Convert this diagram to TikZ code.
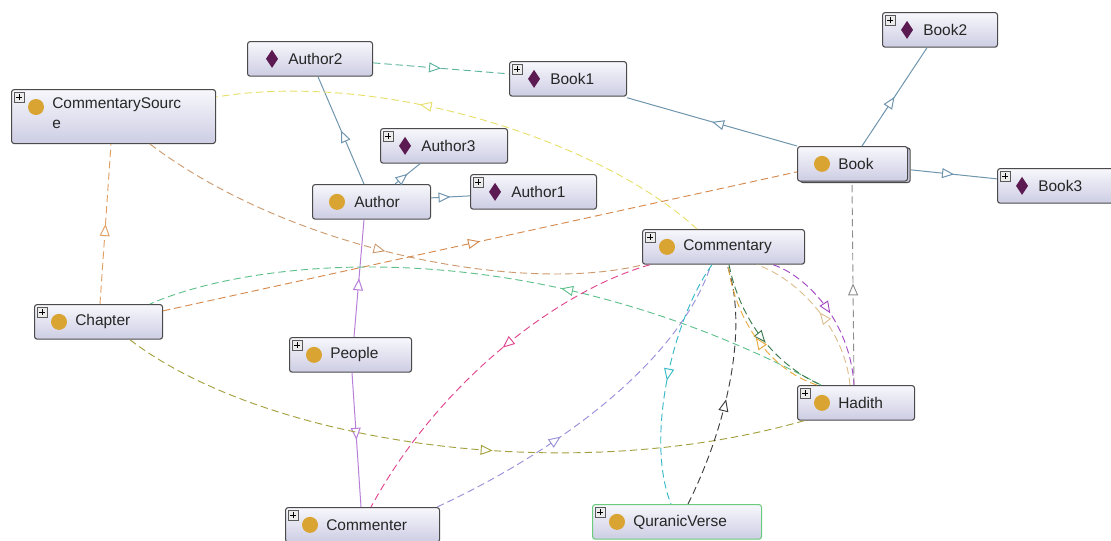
\documentclass[tikz,border=0pt]{standalone}
\usepackage{fontspec}
\setmainfont{Liberation Sans}
\usepackage{tikz}
\usetikzlibrary{positioning, calc, arrows.meta, decorations.markings, shadows}

% colours of the boxes and icons
\definecolor{boxtop}{HTML}{F7F7FC}
\definecolor{boxbot}{HTML}{CDCDE4}
\definecolor{boxline}{HTML}{4A4A4A}
\definecolor{dotgold}{HTML}{D9A431}
\definecolor{diamplum}{HTML}{5B1B52}
% colours of the connectors
\definecolor{cSteel}{HTML}{6F95AE}
\definecolor{cTeal}{HTML}{5DB5A0}
\definecolor{cViolet}{HTML}{B77FD8}
\definecolor{cOrange}{HTML}{E0A062}
\definecolor{cTan}{HTML}{CC9A6E}
\definecolor{cRust}{HTML}{D58A4E}
\definecolor{cGreen}{HTML}{5FC08C}
\definecolor{cYellow}{HTML}{E6DF6A}
\definecolor{cGrey}{HTML}{8E8E8E}
\definecolor{cOlive}{HTML}{A3A03E}
\definecolor{cPink}{HTML}{E0448E}
\definecolor{cLav}{HTML}{9890D8}
\definecolor{cCyan}{HTML}{35B9C6}
\definecolor{cBlack}{HTML}{3E3E3E}
\definecolor{cDkGreen}{HTML}{3B7A4E}
\definecolor{cAmber}{HTML}{E8A93E}
\definecolor{cSand}{HTML}{DDBE8E}
\definecolor{cPurple}{HTML}{A247C2}
\definecolor{cQuran}{HTML}{6BCB7C}

\newcommand\lblfont{\fontsize{11.6}{15.5}\selectfont}

\tikzset{
  pics/plusicon/.style={code={
    \draw[gray!70!black, fill=gray!15, line width=0.4pt] (-5,-5) rectangle (5,5);
    \draw[black, line width=0.6pt] (-3,0) -- (3,0) (0,-3) -- (0,3);
  }},
  pics/clsdot/.style={code={\fill[dotgold] (0,0) circle [radius=6pt];}},
  pics/inddiam/.style={code={\fill[diamplum] (0,-9) -- (6,0) -- (0,9) -- (-6,0) -- cycle;}},
}

\begin{document}
\begin{tikzpicture}[x=0.75pt, y=-0.75pt,
    ent/.style={draw=boxline, line width=0.8pt, rounded corners=2pt,
      top color=boxtop, bottom color=boxbot, anchor=north west,
      inner sep=0pt, minimum height=26pt},
    lbl/.style={anchor=west, inner sep=0pt, font=\lblfont, text=black!85},
    sol/.style={line width=0.75pt},
    dsh/.style={line width=0.7pt, dash pattern=on 5.5pt off 3pt},
    tri/.style={postaction={decorate}, decoration={markings,
      mark=at position #1 with {\arrow[solid]{Triangle[length=9pt, width=7.5pt, fill=white]}}}},
    tri/.default=0.5]
    \useasboundingbox (0,0) rectangle (1111,540);

    % Individuals
    \node[ent, minimum width=125*0.75pt] (author2) at (247,41) {};
    \pic at ($(author2.west)+(25,0)$) {inddiam};
    \node[lbl] (author2-t) at ($(author2.west)+(41,0)$) {Author2};

    \node[ent, minimum width=117*0.75pt] (book1) at (509,61) {};
    \pic at ($(book1.north west)+(8,8)$) {plusicon};
    \pic at ($(book1.west)+(25,0)$) {inddiam};
    \node[lbl] (book1-t) at ($(book1.west)+(41,0)$) {Book1};

    \node[ent, minimum width=127*0.75pt] (author3) at (380,128) {};
    \pic at ($(author3.north west)+(8,8)$) {plusicon};
    \pic at ($(author3.west)+(25,0)$) {inddiam};
    \node[lbl] (author3-t) at ($(author3.west)+(41,0)$) {Author3};

    \node[ent, minimum width=126*0.75pt] (author1) at (470,174) {};
    \pic at ($(author1.north west)+(8,8)$) {plusicon};
    \pic at ($(author1.west)+(25,0)$) {inddiam};
    \node[lbl] (author1-t) at ($(author1.west)+(41,0)$) {Author1};

    \node[ent, minimum width=115*0.75pt] (book2) at (882,12) {};
    \pic at ($(book2.north west)+(8,8)$) {plusicon};
    \pic at ($(book2.west)+(25,0)$) {inddiam};
    \node[lbl] (book2-t) at ($(book2.west)+(41,0)$) {Book2};

    \node[ent, minimum width=125*0.75pt] (book3) at (997,168) {};
    \pic at ($(book3.north west)+(8,8)$) {plusicon};
    \pic at ($(book3.west)+(25,0)$) {inddiam};
    \node[lbl] (book3-t) at ($(book3.west)+(41,0)$) {Book3};

    % Classes
    \node[ent, minimum width=204*0.75pt, minimum height=54*0.75pt] (commsrc) at (11,89) {};
    \pic at ($(commsrc.north west)+(8,8)$) {plusicon};
    \pic at ($(commsrc.north west)+(25,18)$) {clsdot};
    \node[lbl, anchor=north west, align=left] (commsrc-t) at ($(commsrc.north west)+(41,8)$) {CommentarySourc\\e};

    \node[ent, minimum width=118*0.75pt] (author) at (312,184) {};
    \pic at ($(author.west)+(25,0)$) {clsdot};
    \node[lbl] (author-t) at ($(author.west)+(42,0)$) {Author};

    \node[ent, minimum width=110*0.75pt,
      copy shadow={shadow xshift=2pt, shadow yshift=-1pt, fill=boxbot, draw=boxline, line width=0.8pt}] (book) at (797,146) {};
    \pic at ($(book.west)+(25,0)$) {clsdot};
    \node[lbl] (book-t) at ($(book.west)+(41,0)$) {Book};

    \node[ent, minimum width=162*0.75pt] (commentary) at (642,229) {};
    \pic at ($(commentary.north west)+(8,8)$) {plusicon};
    \pic at ($(commentary.west)+(25,0)$) {clsdot};
    \node[lbl] (commentary-t) at ($(commentary.west)+(41,0)$) {Commentary};

    \node[ent, minimum width=128*0.75pt] (chapter) at (34,304) {};
    \pic at ($(chapter.north west)+(8,8)$) {plusicon};
    \pic at ($(chapter.west)+(25,0)$) {clsdot};
    \node[lbl] (chapter-t) at ($(chapter.west)+(41,0)$) {Chapter};

    \node[ent, minimum width=122*0.75pt] (people) at (289,337) {};
    \pic at ($(people.north west)+(8,8)$) {plusicon};
    \pic at ($(people.west)+(25,0)$) {clsdot};
    \node[lbl] (people-t) at ($(people.west)+(41,0)$) {People};

    \node[ent, minimum width=154*0.75pt] (commenter) at (285,507) {};
    \pic at ($(commenter.north west)+(8,8)$) {plusicon};
    \pic at ($(commenter.west)+(25,0)$) {clsdot};
    \node[lbl] (commenter-t) at ($(commenter.west)+(41,0)$) {Commenter};

    \node[ent, minimum width=117*0.75pt] (hadith) at (797,385) {};
    \pic at ($(hadith.north west)+(8,8)$) {plusicon};
    \pic at ($(hadith.west)+(25,0)$) {clsdot};
    \node[lbl] (hadith-t) at ($(hadith.west)+(41,0)$) {Hadith};

    \node[ent, draw=cQuran, minimum width=169*0.75pt] (quranic) at (592,504) {};
    \pic at ($(quranic.north west)+(8,8)$) {plusicon};
    \pic at ($(quranic.west)+(25,0)$) {clsdot};
    \node[lbl] (quranic-t) at ($(quranic.west)+(41,0)$) {QuranicVerse};

    % Solid links (individuals and subclasses)
    \draw[sol, cSteel, tri] (book.north west) -- ($(book1.south east)+(0,1)$);
    \draw[sol, cSteel, tri] ($(book.north west)+(65,0)$) -- ($(book2.south west)+(45,0)$);
    \draw[sol, cSteel, tri] ($(book.east)+(3,6)$) -- ($(book3.west)+(0,-7)$);
    \draw[sol, cSteel, tri] ($(author.north west)+(52,0)$) -- ($(author2.south west)+(71,0)$);
    \draw[sol, cSteel, tri] ($(author.north west)+(83,0)$) -- ($(author3.south west)+(40,0)$);
    \draw[sol, cSteel, tri] ($(author.east)+(0,-4)$) -- ($(author1.west)+(0,4)$);
    \draw[sol, cViolet, tri] ($(people.north west)+(65,0)$) -- ($(author.south west)+(52,0)$);
    \draw[sol, cViolet, tri] ($(people.south west)+(63,0)$) -- ($(commenter.north west)+(76,0)$);

    % Dashed links (object properties)
    \draw[dsh, cTeal, tri] ($(author2.east)+(0,4)$) -- ($(book1.west)+(0,-5)$);
    \draw[dsh, cOrange, tri] ($(chapter.north west)+(66,0)$) -- ($(commsrc.south west)+(100,0)$);
    \draw[dsh, cTan, tri] ($(commsrc.south west)+(139,0)$) .. controls (290,250) and (520,295) .. ($(commentary.south west)+(1,0)$);
    \draw[dsh, cRust, tri] ($(chapter.east)+(0,-11)$) -- ($(book.west)+(0,8)$);
    \draw[dsh, cGreen, tri=0.4] ($(hadith.north west)+(24,0)$) .. controls (520,225) and (250,260) .. ($(chapter.north west)+(116,0)$);
    \draw[dsh, cYellow, tri=0.6] ($(commentary.north west)+(55,0)$) .. controls (600,140) and (380,70) .. ($(commsrc.north east)+(0,8)$);
    \draw[dsh, cGrey, tri] ($(hadith.north west)+(57,0)$) -- ($(book.south west)+(55,0)$);
    \draw[dsh, cOlive, tri=0.55] ($(chapter.south west)+(96,0)$) .. controls (260,440) and (560,490) .. ($(hadith.south west)+(7,0)$);
    \draw[dsh, cPink, tri=0.45] ($(commentary.south west)+(8,0)$) .. controls (560,290) and (440,380) .. ($(commenter.north west)+(86,0)$);
    \draw[dsh, cLav, tri=0.38] ($(commenter.north east)+(-3,0)$) .. controls (560,450) and (680,360) .. ($(commentary.south west)+(69,0)$);
    \draw[dsh, cCyan, tri] ($(commentary.south west)+(70,0)$) .. controls (672,320) and (645,440) .. ($(quranic.north west)+(79,0)$);
    \draw[dsh, cBlack, tri=0.45] ($(quranic.north west)+(96,0)$) .. controls (725,430) and (750,330) .. ($(commentary.south west)+(85,0)$);
    \draw[dsh, cDkGreen, tri=0.55] ($(commentary.south west)+(87,0)$) .. controls (740,320) and (775,365) .. ($(hadith.north west)+(24,0)$);
    \draw[dsh, cAmber, tri] ($(hadith.north west)+(20,0)$) .. controls (770,370) and (735,320) .. ($(commentary.south west)+(86,0)$);
    \draw[dsh, cSand, tri] ($(hadith.north west)+(53,0)$) .. controls (845,330) and (800,280) .. ($(commentary.south west)+(115,0)$);
    \draw[dsh, cPurple, tri] ($(commentary.south west)+(131,0)$) .. controls (805,275) and (850,320) .. ($(hadith.north west)+(57,0)$);
\end{tikzpicture}
\end{document}
